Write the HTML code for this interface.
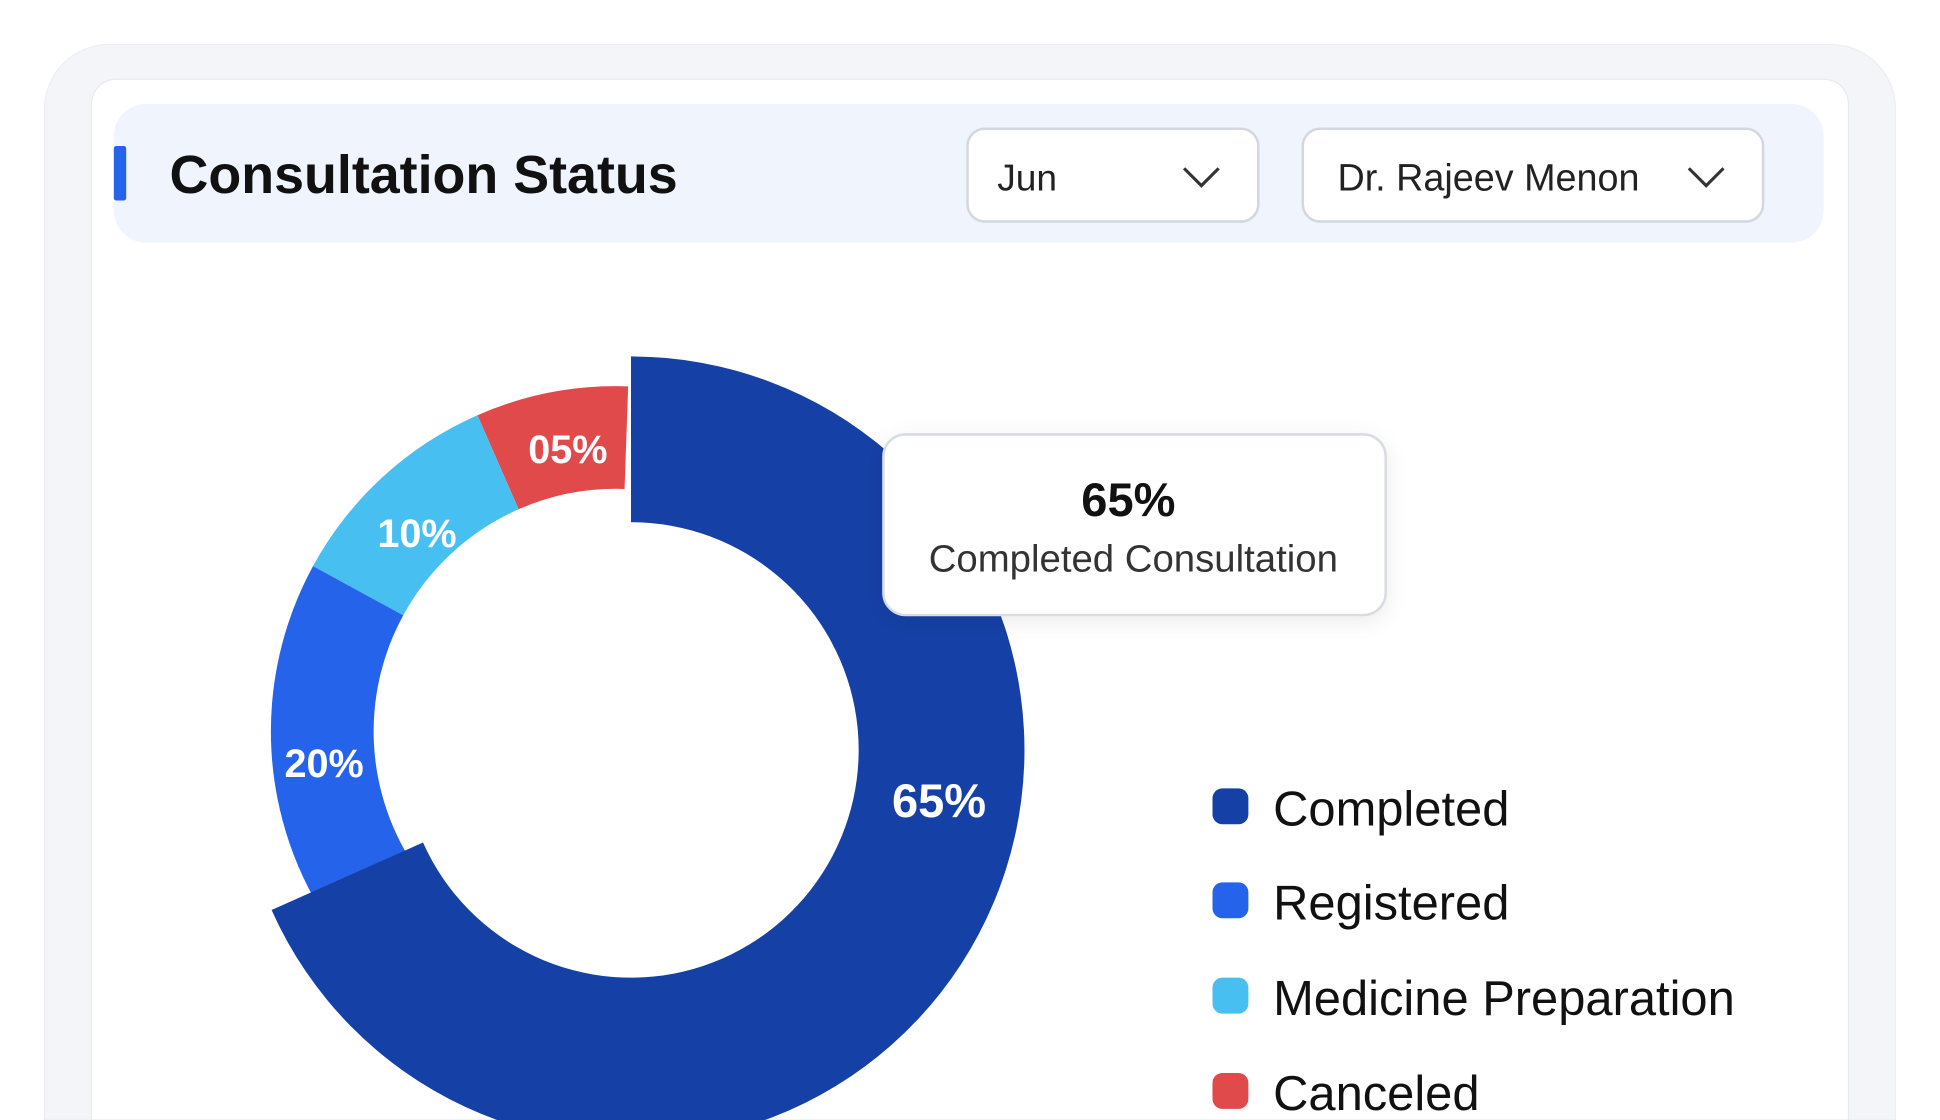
<!DOCTYPE html>
<html><head><meta charset="utf-8"><style>
html,body{margin:0;padding:0;background:#fff;width:1940px;height:1120px;overflow:hidden}
svg{display:block;overflow:hidden}
text{font-family:"Liberation Sans",sans-serif}
</style></head><body>
<svg width="1940" height="1120" viewBox="0 0 1568 905" preserveAspectRatio="none">
<defs>
<filter id="sh" x="-20%" y="-20%" width="140%" height="140%"><feDropShadow dx="0" dy="4" stdDeviation="8" flood-color="#000" flood-opacity="0.08"/></filter>
<clipPath id="c"><rect x="0" y="0" width="1568" height="905"/></clipPath>
</defs>
<g clip-path="url(#c)">
<rect x="0" y="0" width="1568" height="905" fill="#fff"/>
<path d="M36 905 L36 88 A52 52 0 0 1 88 36 L1480 36 A52 52 0 0 1 1532 88 L1532 905 Z" fill="#f4f5f8" stroke="#eceef2"/>
<path d="M74 905 L74 84 A20 20 0 0 1 94 64 L1474 64 A20 20 0 0 1 1494 84 L1494 905 Z" fill="#fff" stroke="#e8eaef"/>
<rect x="92" y="84" width="1382" height="112" rx="26" fill="#eff4fd"/>
<rect x="92" y="118" width="10" height="44" rx="2" fill="#2563eb"/>
<text x="137" y="156" font-size="43.5" font-weight="bold" fill="#111">Consultation Status</text>
<rect x="782" y="104" width="235" height="75" rx="14" fill="#fff" stroke="#d3d7de" stroke-width="2"/>
<text x="806" y="154" font-size="30" fill="#222">Jun</text>
<path d="M957 136 L971 150 L985 136" fill="none" stroke="#333" stroke-width="2.5"/>
<rect x="1053" y="104" width="372" height="75" rx="14" fill="#fff" stroke="#d3d7de" stroke-width="2"/>
<text x="1081" y="154" font-size="30.5" fill="#222">Dr. Rajeev Menon</text>
<path d="M1365 136 L1379 150 L1393 136" fill="none" stroke="#333" stroke-width="2.5"/>

<path d="M507.7 312.2 A279 279 0 0 0 385.9 335.5 L419.2 411.5 A196 196 0 0 1 504.8 395.1 Z" fill="#e04a4a"/>
<path d="M385.9 335.5 A279 279 0 0 0 253.0 457.4 L325.9 497.2 A196 196 0 0 1 419.2 411.5 Z" fill="#47bff0"/>
<path d="M253.0 457.4 A279 279 0 0 0 269.4 751.0 L337.4 703.4 A196 196 0 0 1 325.9 497.2 Z" fill="#2563eb"/>
<path d="M510 288 A318 318 0 1 1 219.5 735.3 L341.9 680.8 A184 184 0 1 0 510 422 Z" fill="#1540a5"/>

<text x="459" y="374" font-size="32" font-weight="bold" fill="#fff" text-anchor="middle">05%</text>
<text x="337" y="442" font-size="32" font-weight="bold" fill="#fff" text-anchor="middle">10%</text>
<text x="262" y="628" font-size="32" font-weight="bold" fill="#fff" text-anchor="middle">20%</text>
<text x="759" y="660" font-size="38" font-weight="bold" fill="#fff" text-anchor="middle">65%</text>

<rect x="714" y="351" width="406" height="146" rx="18" fill="#fff" stroke="#d8dbe0" stroke-width="2" filter="url(#sh)"/>
<text x="912" y="417" font-size="38" font-weight="bold" fill="#111" text-anchor="middle">65%</text>
<text x="916" y="462" font-size="31" fill="#333" text-anchor="middle">Completed Consultation</text>

<rect x="980" y="637" width="29" height="29" rx="8" fill="#1540a5"/>
<text x="1029" y="667" font-size="39.5" fill="#111">Completed</text>
<rect x="980" y="713" width="29" height="29" rx="8" fill="#2563eb"/>
<text x="1029" y="743" font-size="39.5" fill="#111">Registered</text>
<rect x="980" y="790" width="29" height="29" rx="8" fill="#47bff0"/>
<text x="1029" y="820" font-size="39.5" fill="#111">Medicine Preparation</text>
<rect x="980" y="867" width="29" height="29" rx="8" fill="#e04a4a"/>
<text x="1029" y="897" font-size="39.5" fill="#111">Canceled</text>
</g>
</svg>
</body></html>
